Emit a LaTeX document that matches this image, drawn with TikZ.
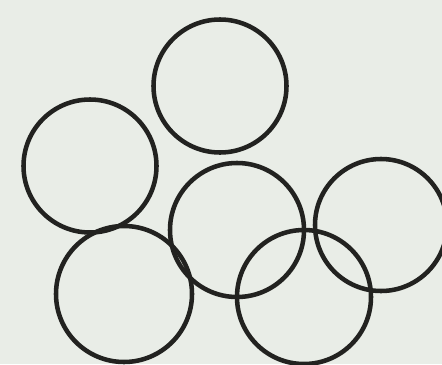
\documentclass[tikz,border=0pt]{standalone}
\usepackage{tikz}
\usetikzlibrary{calc}
\definecolor{paper}{RGB}{233,237,231}
\definecolor{ink}{RGB}{34,34,32}

\begin{document}
\begin{tikzpicture}[x=0.75pt,y=0.75pt,yscale=-1,xscale=1]

\useasboundingbox (0,0) rectangle (442,364);
\fill[paper] (0,0) rectangle (442,364);
\clip (0,0) rectangle (442,364);

\tikzset{ring/.style={draw=ink,line width=3.4pt}}

\draw[ring] (220,86) circle (66.5);

\draw[ring] (90,166) circle (66.5);

\draw[ring] (237,230) circle (67);

\draw[ring] (381,225) circle (66);

\draw[ring] (124,294) circle (68);

\draw[ring] (304,297) circle (67);


\end{tikzpicture}
\end{document}
